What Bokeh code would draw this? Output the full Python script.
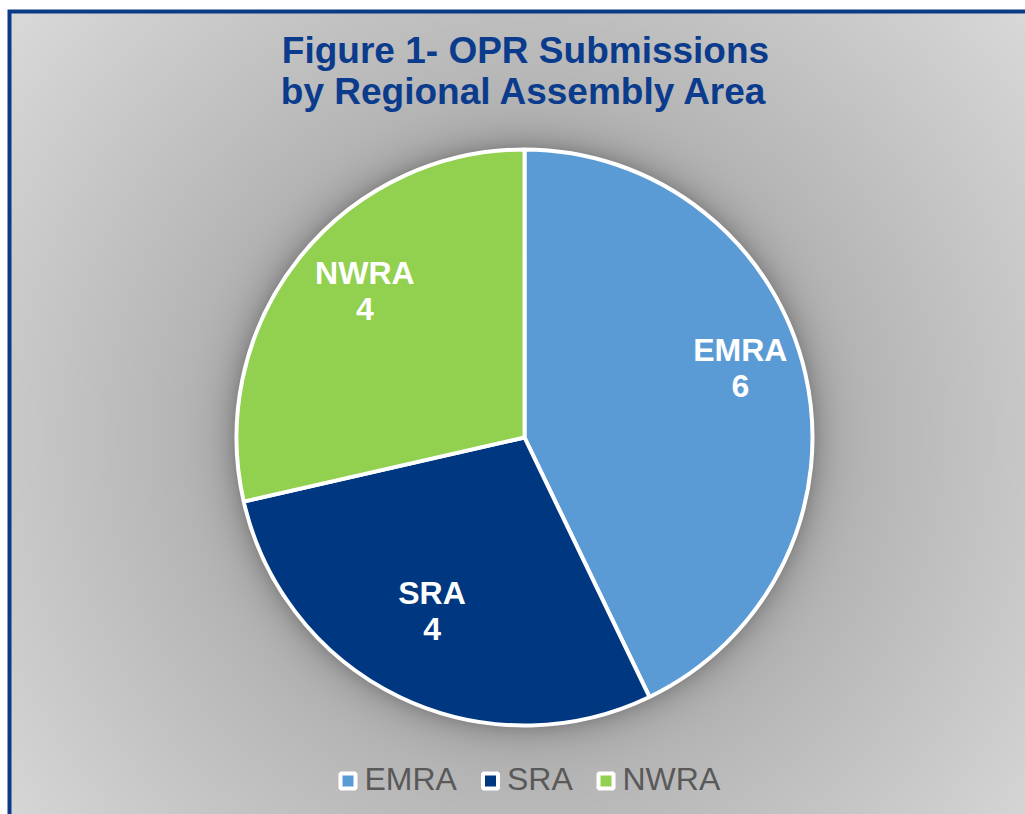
import numpy as np
from bokeh.plotting import figure
from bokeh.models import Range1d, ColumnDataSource
from bokeh.core.properties import value
from bokeh.embed import file_html
from bokeh.resources import INLINE

# ---------------- data ----------------
categories = ["EMRA", "SRA", "NWRA"]
counts = [6, 4, 4]
colors = ["#5B9BD5", "#003781", "#92D050"]
title_lines = ["Figure 1- OPR Submissions", "by Regional Assembly Area"]

# ---------------- layout (page pixel coordinates) ----------------
W, H = 1025, 814
OX, OY = 0, 0
PIE_CX, PIE_CY, PIE_R = 524, 437, 288
LABEL_RF = 0.74
label_nudge = [(8, -20), (0, -17), (7, -12)]
legend_sq_x = [347.5, 490, 605.5]
FONT = "Liberation Sans"
BASE_FIX = 0.4  # baseline correction, in em


def X(px):
    return px - OX


def Y(py):
    return H + OY - py


def TY(py, size):
    return Y(py - BASE_FIX * size)


p = figure(width=W, height=H, x_range=Range1d(0, W), y_range=Range1d(0, H),
           output_backend="svg", toolbar_location=None,
           x_axis_type=None, y_axis_type=None, min_border=0,
           outline_line_color=None, background_fill_color="white",
           border_fill_color="white")

# ---------------- background gradient + pie shadow + frame ----------------
cols = np.arange(W) + OX + 0.5
rows = np.arange(H) + OY + 0.5
PX, PY = np.meshgrid(cols, rows)
d = np.hypot(PX - PIE_CX, PY - PIE_CY)
g = 176 + 42 * np.clip((d - 290) / 380.0, 0, 1)
e = np.clip(d - PIE_R, 0, None)
g = g * (1 - 0.25 * np.exp(-e / 14.0))
rgb = np.stack([g, g, g], axis=-1)
border = np.array([11, 58, 134], dtype=float)
rgb[9:13, 7:, :] = border
rgb[9:, 7:11, :] = border
rgb[:9, :, :] = 255
rgb[:, :7, :] = 255
img = np.empty((H, W), dtype=np.uint32)
view = img.view(np.uint8).reshape(H, W, 4)
view[..., :3] = np.clip(rgb, 0, 255).astype(np.uint8)
view[..., 3] = 255
img = np.ascontiguousarray(img[::-1])
p.image_rgba(image=[img], x=0, y=0, dw=W, dh=H)

# ---------------- pie ----------------
total = float(sum(counts))
cum = np.cumsum([0] + counts) / total
start = np.pi / 2 - 2 * np.pi * cum[:-1]
end = np.pi / 2 - 2 * np.pi * cum[1:]
src = ColumnDataSource(dict(cat=categories, val=counts, color=colors,
                            start=list(start), end=list(end)))
p.wedge(x=X(PIE_CX), y=Y(PIE_CY), radius=PIE_R, start_angle="start",
        end_angle="end", direction="clock", fill_color="color",
        line_color="white", line_width=4, source=src)

# ---------------- data labels ----------------
LAB_SIZE = 32
mid = (start + end) / 2
lx, ly1, ly2 = [], [], []
for i, a in enumerate(mid):
    px = PIE_CX + LABEL_RF * PIE_R * np.cos(a) + label_nudge[i][0]
    py = PIE_CY - LABEL_RF * PIE_R * np.sin(a) + label_nudge[i][1]
    lx.append(X(px))
    ly1.append(TY(py - 7, LAB_SIZE))
    ly2.append(TY(py + 29, LAB_SIZE))
lab_kw = dict(text_font=value(FONT), text_font_style="bold",
              text_font_size=f"{LAB_SIZE}px", text_color="white",
              text_align="center", text_baseline="alphabetic")
p.text(x=lx, y=ly1, text=categories, **lab_kw)
p.text(x=lx, y=ly2, text=[str(v) for v in counts], **lab_kw)

# ---------------- title ----------------
TITLE_SIZE = 37
p.text(x=[X(525), X(524)], y=[TY(65, TITLE_SIZE), TY(106, TITLE_SIZE)],
       text=title_lines, text_font=value(FONT), text_font_style="bold",
       text_font_size=f"{TITLE_SIZE}px", text_color="#0B3B8C",
       text_align="center", text_baseline="alphabetic")

# ---------------- legend ----------------
LEG_SIZE = 32
p.rect(x=[X(v) for v in legend_sq_x], y=[Y(780.5)] * len(categories),
       width=15, height=15, fill_color=colors, line_color="white",
       line_width=4)
p.text(x=[X(v + 16.5) for v in legend_sq_x],
       y=[TY(791, LEG_SIZE)] * len(categories),
       text=categories, text_font=value(FONT),
       text_font_size=f"{LEG_SIZE}px",
       text_color="#595959", text_align="left", text_baseline="alphabetic")

open("out.html", "w").write(file_html(p, INLINE))
